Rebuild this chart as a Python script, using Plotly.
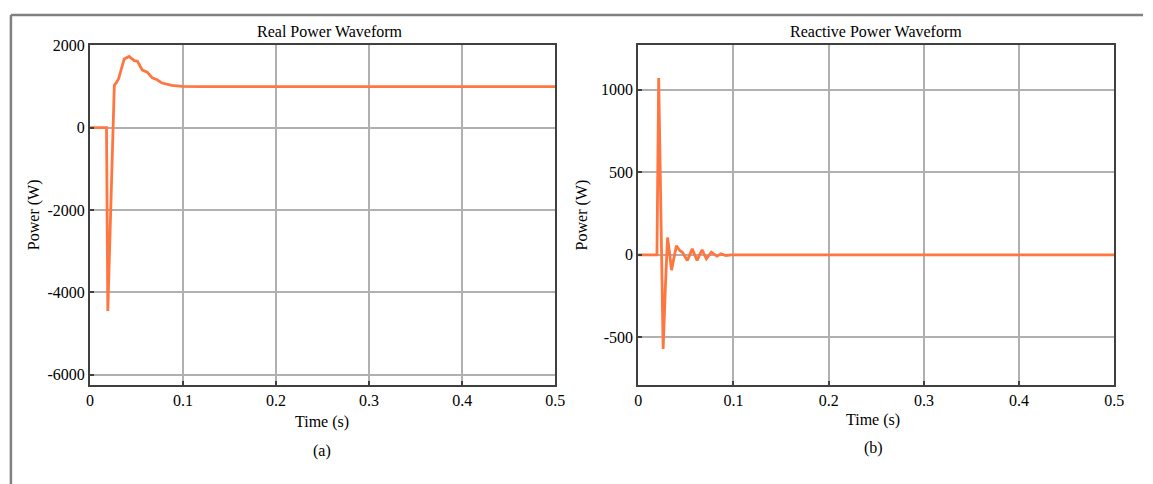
import plotly.graph_objects as go

# Real power response (time in s, power in W)
real_t = [0, 0.0178, 0.0192, 0.0262, 0.0285, 0.0308, 0.0368, 0.0421, 0.0475, 0.0510,
          0.0563, 0.0616, 0.0669, 0.0722, 0.0775, 0.0881, 0.0987, 0.12, 0.2, 0.3, 0.4, 0.5]
real_p = [0, 0, -4450, 1030, 1100, 1190, 1670, 1730, 1630, 1615,
          1400, 1350, 1210, 1165, 1085, 1030, 1005, 1000, 1000, 1000, 1000, 1000]

# Reactive power response (time in s, power in W)
reac_t = [0, 0.0197, 0.0215, 0.0262, 0.0285, 0.0308, 0.0329, 0.0350, 0.0375, 0.0401,
          0.0436, 0.0464, 0.0490, 0.0516, 0.0541, 0.0567, 0.0593, 0.0619, 0.0645, 0.0671,
          0.0693, 0.0716, 0.0742, 0.0768, 0.0797, 0.0827, 0.0871, 0.0920, 0.0980,
          0.2, 0.3, 0.4, 0.5]
reac_q = [0, 0, 1070, -570, -200, 105, 10, -93, -20, 55,
          26, 16, -10, -34, 0, 36, 0, -34, 0, 30,
          3, -24, -4, 16, 4, -8, 6, -4, 0,
          0, 0, 0, 0]

x_ticks = [0, 0.1, 0.2, 0.3, 0.4, 0.5]
x_labels = ["0", "0.1", "0.2", "0.3", "0.4", "0.5"]
real_ticks = [2000, 0, -2000, -4000, -6000]
real_labels = ["2000", "0", "-2000", "-4000", "-6000"]
reac_ticks = [1000, 500, 0, -500]
reac_labels = ["1000", "500", "0", "-500"]

W, H = 1153, 484
LINE = "rgb(255,118,64)"
FONT = "Liberation Serif"
FS = 16


def px(x):
    return x / W


def py(y):
    return 1 - y / H


fig = go.Figure()
fig.add_trace(go.Scatter(x=real_t, y=real_p, mode="lines", xaxis="x", yaxis="y",
                         line=dict(color=LINE, width=2.8), showlegend=False))
fig.add_trace(go.Scatter(x=reac_t, y=reac_q, mode="lines", xaxis="x2", yaxis="y2",
                         line=dict(color=LINE, width=2.8), showlegend=False))

axis_common = dict(showline=True, linecolor="#404040", linewidth=2, mirror=True,
                   showgrid=True, gridcolor="#b0b0b0", gridwidth=1.5, zeroline=False,
                   ticks="inside", ticklen=4, tickcolor="#404040", tickwidth=1.5,
                   tickfont=dict(family=FONT, size=FS, color="black"))

fig.update_layout(
    width=W, height=H,
    margin=dict(l=0, r=0, t=0, b=0),
    paper_bgcolor="white", plot_bgcolor="white",
    font=dict(family=FONT, size=FS, color="black"),
    xaxis=dict(domain=[px(87), px(558)], range=[0, 0.5], tickvals=x_ticks, ticktext=x_labels,
               anchor="y", **axis_common),
    yaxis=dict(domain=[py(383), py(38)], range=[-6240, 2000], tickvals=real_ticks,
               ticktext=real_labels, anchor="x", **axis_common),
    xaxis2=dict(domain=[px(642), px(1124)], range=[0, 0.5], tickvals=x_ticks, ticktext=x_labels,
                anchor="y2", **axis_common),
    yaxis2=dict(domain=[py(383), py(38)], range=[-786, 1268], tickvals=reac_ticks,
                ticktext=reac_labels, anchor="x2", **axis_common),
)

texts = [
    ("Real Power Waveform", 330, 24, 0),
    ("Reactive Power Waveform", 883, 24, 0),
    ("Time (s)", 322, 421, 0),
    ("Time (s)", 880, 419, 0),
    ("(a)", 322, 450, 0),
    ("(b)", 880, 447, 0),
    ("Power (W)", 30, 210, -90),
    ("Power (W)", 585, 210, -90),
]
for txt, x, y, ang in texts:
    fig.add_annotation(text=txt, x=px(x), y=py(y), xref="paper", yref="paper",
                       showarrow=False, textangle=ang, xanchor="center", yanchor="middle",
                       font=dict(family=FONT, size=FS, color="black"))

# Frame lines along the top and left edges
fig.add_shape(type="line", xref="paper", yref="paper", x0=px(7), x1=1, y0=py(7), y1=py(7),
              line=dict(color="#808080", width=2.5))
fig.add_shape(type="line", xref="paper", yref="paper", x0=px(7), x1=px(7), y0=0, y1=py(7),
              line=dict(color="#808080", width=2.5))

fig.write_html("out.html")
